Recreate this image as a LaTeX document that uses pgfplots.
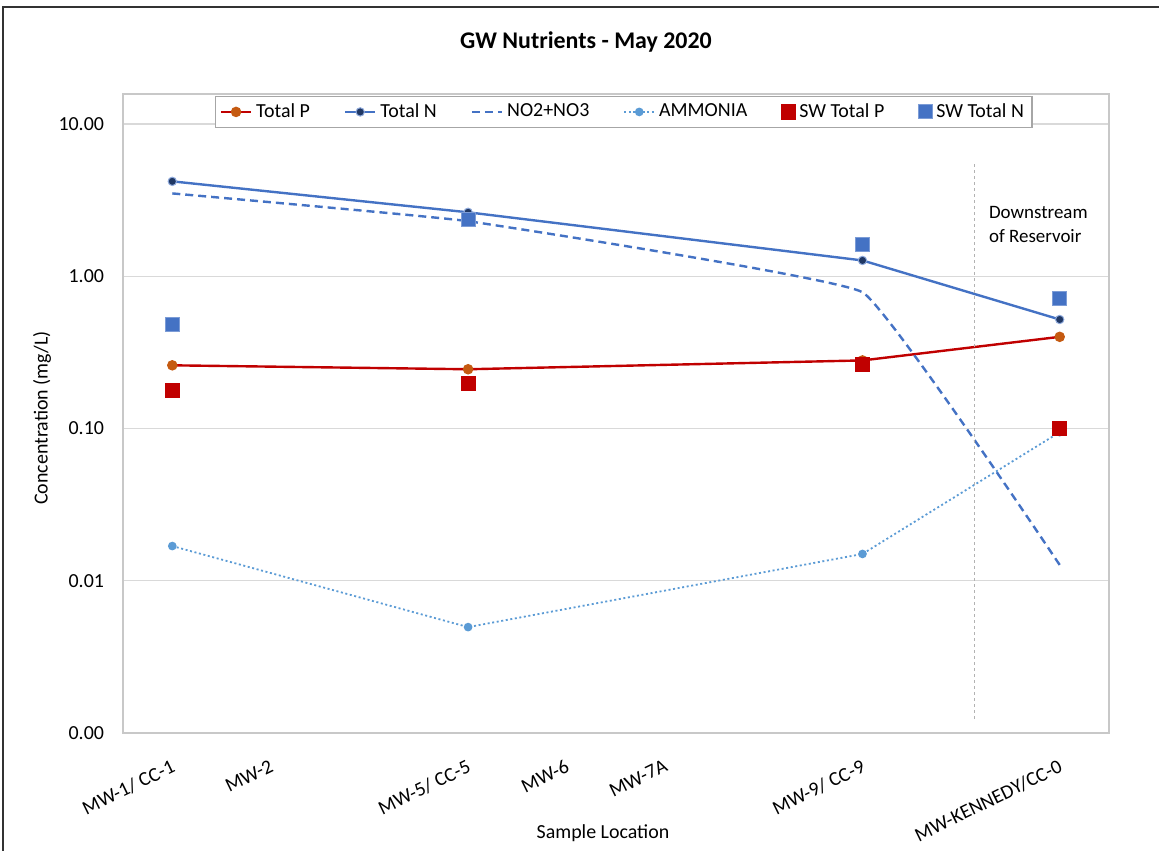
\documentclass[border=0pt]{standalone}
\usepackage{fontspec}
\setmainfont{Carlito}
\usepackage{pgfplots}
\pgfplotsset{compat=1.18}
\definecolor{cred}{HTML}{C00000}
\definecolor{corange}{HTML}{C55A11}
\definecolor{cblue}{HTML}{4472C4}
\definecolor{cnavy}{HTML}{203864}
\definecolor{clblue}{HTML}{5B9BD5}
\definecolor{cgrid}{HTML}{D9D9D9}
\definecolor{cframe}{HTML}{C8C8C8}
\begin{document}
\begin{tikzpicture}
\useasboundingbox (-61.5bp,-59bp) rectangle (518bp,366.5bp);
\draw[black!80, line width=0.8bp] (-60bp,-62bp) -- (-60bp,363bp) -- (521bp,363bp);
\begin{axis}[
  at={(0,0)}, anchor=south west,
  scale only axis, width=493bp, height=319.5bp,
  xmin=-0.5, xmax=9.5,
  ymode=log, ymin=0.001, ymax=15.74,
  xtick={0,...,9},
  xticklabels={{MW-1/ CC-1},{MW-2},{},{MW-5/ CC-5},{MW-6},{MW-7A},{},{MW-9/ CC-9},{},{MW-KENNEDY/CC-0}},
  ytick={0.001,0.01,0.1,1,10},
  yticklabels={0.00,0.01,0.10,1.00,10.00},
  minor ytick={},
  ymajorgrids, grid style={cgrid, line width=0.6bp},
  major tick length=0pt, minor tick length=0pt,
  axis line style={cframe, line width=0.6bp},
  tick label style={font=\fontsize{10}{12}\selectfont, black},
  xticklabel style={rotate=26, anchor=north east, inner sep=0pt, yshift=-11bp, xshift=-6.5bp},
  yticklabel style={xshift=-6bp},
  legend columns=6,
  legend style={at={(0.508,0.997)}, anchor=north, draw=gray!70, line width=0.6bp,
    font=\fontsize{10}{12}\selectfont, inner xsep=2bp, inner ysep=1.5bp,
    /tikz/every even column/.append style={column sep=15bp}},
  legend image code/.code={\draw[mark repeat=2,mark phase=2] plot coordinates {(0bp,0bp)(7.5bp,0bp)(15bp,0bp)};},
]
\addplot[cred, line width=1.2bp, mark=*, mark size=2bp, mark options={fill=corange, draw=corange, solid}]
  coordinates {(0,0.26) (3,0.245) (7,0.28) (9,0.40)};
\addlegendentry{Total P}
\addplot[cblue, line width=1.2bp, mark=*, mark size=2.1bp, mark options={fill=cnavy, draw=cblue!60, line width=0.5bp, solid}]
  coordinates {(0,4.2) (3,2.63) (7,1.27) (9,0.52)};
\addlegendentry{Total N}
\addplot[cblue, line width=1.2bp, dash pattern=on 4bp off 2.5bp, smooth, tension=0.15]
  coordinates {(0,3.5) (3,2.3) (7,0.785) (9,0.0127)};
\addlegendentry{NO2+NO3}
\addplot[clblue, line width=0.9bp, dash pattern=on 1bp off 1.3bp, mark=*, mark size=1.7bp, mark options={fill=clblue, draw=clblue, solid}]
  coordinates {(0,0.0169) (3,0.00496) (7,0.015) (9,0.0946)};
\addlegendentry{AMMONIA}
\addplot[only marks, mark=square*, mark size=3.5bp, mark options={fill=cred, draw=cred}]
  coordinates {(0,0.178) (3,0.198) (7,0.264) (9,0.100)};
\addlegendentry{SW Total P}
\addplot[only marks, mark=square*, mark size=3.5bp, mark options={fill=cblue, draw=cblue!70!white, line width=0.5bp}]
  coordinates {(0,0.48) (3,2.37) (7,1.62) (9,0.71)};
\addlegendentry{SW Total N}
\draw[gray!60, line width=0.5bp, dash pattern=on 1.5bp off 1.5bp] (axis cs:8.14,5.44) -- (axis cs:8.14,0.00123);
\node[anchor=west, align=left, font=\fontsize{9.5}{12}\selectfont, inner sep=0pt] at (axis cs:8.28,2.19) {Downstream\\of Reservoir};
\end{axis}
\node[font=\bfseries\fontsize{12}{14}\selectfont] at (231.5bp,345.5bp) {GW Nutrients - May 2020};
\node[font=\fontsize{10}{12}\selectfont] at (240bp,-50bp) {Sample Location};
\node[font=\fontsize{10}{12}\selectfont, rotate=90] at (-40.5bp,157.5bp) {Concentration (mg/L)};
\end{tikzpicture}
\end{document}
